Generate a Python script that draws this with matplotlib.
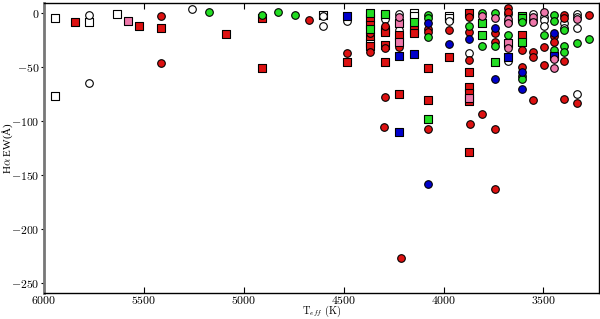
import matplotlib
matplotlib.use("Agg")
import matplotlib.pyplot as plt

plt.rcParams['font.family'] = ['cmr10', 'DejaVu Serif']
plt.rcParams['mathtext.fontset'] = 'cm'
plt.rcParams['axes.formatter.use_mathtext'] = True

# Teff (K) and H-alpha EW (Angstrom)
white_sq_t = [5945, 5945, 5775, 5635, 4605, 4370, 4295, 4150, 4150, 3975, 3975]
white_sq_ew = [-5, -77, -9, -1, -2, -28, -2, 0, -3, -3, -5]

white_ci_t = [5775, 5775, 5260, 4605, 4605, 4485, 4295, 4225, 4225, 3975, 3875,
              3675, 3675, 3550, 3550, 3495, 3495, 3495, 3395, 3395, 3330, 3330,
              3330, 3330]
white_ci_ew = [-2, -65, 3, -3, -12, -8, -6, -1, -16, -8, -37,
               -1, -45, -1, -7, -4, -7, -12, -10, -14, -1, -4,
               -14, -75]

red_sq_t = [5845, 5525, 5415, 5090, 4910, 4910, 4485, 4370, 4370, 4370, 4370,
            4295, 4295, 4295, 4295, 4225, 4225, 4150, 4150, 4080, 4080, 3975,
            3875, 3875, 3875, 3875, 3875, 3875, 3605]
red_sq_ew = [-9, -12, -14, -20, -5, -51, -46, -5, -11, -22, -31,
             -16, -18, -30, -46, -21, -75, -16, -19, -51, -81, -41,
             0, -55, -69, -74, -82, -129, -21]

red_ci_t = [5415, 5415, 4675, 4485, 4370, 4370, 4295, 4295, 4295, 4300, 4225,
            4215, 4080, 4080, 4080, 3975, 3875, 3875, 3875, 3870, 3810, 3740,
            3740, 3740, 3740, 3675, 3675, 3605, 3605, 3550, 3550, 3550, 3495,
            3495, 3445, 3445, 3395, 3395, 3395, 3395, 3330, 3270]
red_ci_ew = [-3, -47, -7, -37, -19, -36, -12, -33, -78, -106, -32,
             -227, -15, -18, -108, -16, -4, -18, -44, -103, -94, -19,
             -27, -108, -163, 4, 1, -35, -50, -36, -41, -81, -32,
             -48, -22, -27, -2, -5, -45, -80, -84, -2]

green_sq_t = [4370, 4370, 4295, 4150, 3810, 3810, 3740, 3605, 3605, 3605, 4080]
green_sq_ew = [0, -15, -1, -9, -10, -21, -46, -3, -5, -27, -98]

green_ci_t = [5175, 4910, 4830, 4745, 4080, 4080, 4080, 3875, 3810, 3810, 3740,
              3740, 3675, 3675, 3605, 3605, 3605, 3495, 3445, 3445, 3445, 3395,
              3395, 3395, 3330, 3270]
green_ci_ew = [1, -2, 1, -2, -2, -5, -23, -12, 0, -31, 0,
               -31, -9, -21, -9, -59, -61, -21, -2, -8, -35, -16,
               -31, -36, -28, -24]

blue_sq_t = [4485, 4225, 4150, 4225, 3675, 3445]
blue_sq_ew = [-3, -40, -38, -110, -41, -40]

blue_ci_t = [4080, 3975, 3875, 3740, 3740, 3605, 3605, 3445, 4080]
blue_ci_ew = [-10, -29, -24, -14, -61, -55, -71, -19, -158]

pink_sq_t = [5580, 4225, 4225, 3875, 3675]
pink_sq_ew = [-8, -10, -27, -79, -28]

pink_ci_t = [4225, 3810, 3740, 3675, 3675, 3675, 3550, 3550, 3495, 3445, 3445, 3330]
pink_ci_ew = [-4, -3, -5, -6, -10, -33, -4, -9, 1, -43, -51, -6]

RED = '#dd1111'
GREEN = '#22dd22'
BLUE = '#0000cc'
PINK = '#ee77aa'

fig = plt.figure(figsize=(6, 3.19), dpi=100)
ax = fig.add_axes([0.0733, 0.082, 0.925, 0.909])

groups = [
    (white_sq_t, white_sq_ew, 'white', 's'),
    (white_ci_t, white_ci_ew, 'white', 'o'),
    (red_sq_t, red_sq_ew, RED, 's'),
    (red_ci_t, red_ci_ew, RED, 'o'),
    (green_sq_t, green_sq_ew, GREEN, 's'),
    (green_ci_t, green_ci_ew, GREEN, 'o'),
    (blue_sq_t, blue_sq_ew, BLUE, 's'),
    (blue_ci_t, blue_ci_ew, BLUE, 'o'),
    (pink_sq_t, pink_sq_ew, PINK, 's'),
    (pink_ci_t, pink_ci_ew, PINK, 'o'),
]
for t, ew, col, mk in groups:
    ax.scatter(t, ew, s=30 if mk == 'o' else 26, marker=mk, facecolor=col,
               edgecolor='black', linewidth=0.8, zorder=3)

ax.set_xlim(6000, 3222)
ax.set_ylim(-259, 9)
ax.set_xticks([6000, 5500, 5000, 4500, 4000, 3500])
ax.set_yticks([0, -50, -100, -150, -200, -250])

for side in ['top', 'right', 'bottom']:
    ax.spines[side].set_linewidth(1.0)
ax.spines['left'].set_color('#777777')
ax.spines['left'].set_linewidth(2.0)

ax.tick_params(axis='both', labelsize=8.5, direction='in', length=4,
               top=True, right=True, pad=1.0)
ax.tick_params(axis='y', which='both', left=True, direction='out', length=2.5,
               pad=0.5)

ax.set_xlabel(r'T$_{eff}$ (K)', fontsize=7.5)
ax.set_ylabel(r'H$\alpha$ EW(Å)', fontsize=8, family='Liberation Serif')
ax.xaxis.set_label_coords(0.5, -0.039)
ax.yaxis.set_label_coords(-0.052, 0.5)

fig.savefig('out.png', dpi=100)
